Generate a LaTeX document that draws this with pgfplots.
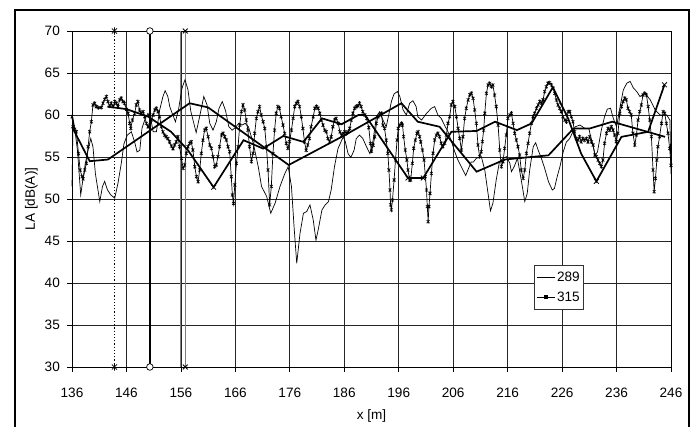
\documentclass[border=0pt]{standalone}
\usepackage{fontspec}
\setmainfont{Liberation Sans}
\usepackage{pgfplots}
\pgfplotsset{compat=1.18}
\pgfdeclareplotmark{xbar}{%
  \pgfpathmoveto{\pgfqpoint{-.7071\pgfplotmarksize}{-.7071\pgfplotmarksize}}%
  \pgfpathlineto{\pgfqpoint{.7071\pgfplotmarksize}{.7071\pgfplotmarksize}}%
  \pgfpathmoveto{\pgfqpoint{-.7071\pgfplotmarksize}{.7071\pgfplotmarksize}}%
  \pgfpathlineto{\pgfqpoint{.7071\pgfplotmarksize}{-.7071\pgfplotmarksize}}%
  \pgfpathmoveto{\pgfqpoint{0pt}{-\pgfplotmarksize}}%
  \pgfpathlineto{\pgfqpoint{0pt}{\pgfplotmarksize}}%
  \pgfusepathqstroke}
\pgfplotstableread{
x y
136.0 51.5
136.2 59.6
136.5 58.4
137.0 55.8
137.6 50.5
138.0 52.3
138.45 54.25
138.95 55.8
139.45 57.2
139.85 56.2
140.3 53.0
141.1 49.7
141.6 51.5
142.0 52.1
142.5 51.1
143.1 50.5
143.85 50.1
144.45 51.9
145.05 54.25
145.55 56.6
146.15 57.6
146.9 58.0
147.5 56.8
147.95 55.6
148.45 55.8
148.85 58.4
149.45 59.6
149.95 60.2
150.45 59.6
150.9 58.0
151.5 58.0
152.1 60.6
152.7 62.2
153.1 62.9
153.6 62.2
153.95 61.0
154.4 60.2
155.0 59.2
155.6 60.8
156.2 63.2
156.75 64.2
157.3 63.0
157.8 60.5
158.8 57.9
159.5 60.0
160.2 62.2
160.8 61.2
161.3 59.0
161.9 58.2
162.5 59.2
163.0 60.8
163.6 61.6
164.2 60.5
164.8 58.6
165.4 58.2
166.0 58.5
166.6 59.0
167.2 58.8
167.8 59.0
168.4 58.6
169.3 56.6
170.2 53.85
170.8 51.5
171.75 50.3
172.5 48.3
173.3 49.5
174.2 51.5
175.1 53.05
175.7 53.85
176.3 51.5
176.8 46.5
177.27 42.35
177.87 45.9
178.5 48.3
179.1 48.5
179.7 49.3
180.3 47.5
180.8 45.1
181.2 46.3
181.9 48.7
182.5 49.3
183.1 49.7
183.6 51.1
184.2 53.85
184.85 56.0
185.8 57.4
186.2 56.8
186.7 55.4
187.2 54.95
187.8 55.8
188.2 57.2
188.8 57.6
189.4 57.2
190.1 56.2
190.7 55.4
191.3 57.0
191.9 59.8
192.5 60.4
193.1 59.4
193.7 58.6
194.16 60.0
194.65 61.6
195.13 62.5
195.75 62.8
196.2 62.2
196.8 60.6
197.4 60.0
198.0 61.4
198.6 61.7
199.2 61.0
199.5 59.8
200.2 59.4
201.1 60.2
202.0 60.8
202.6 61.0
203.2 60.0
203.8 59.6
204.4 58.8
205.05 58.0
205.7 56.8
206.3 55.6
206.9 54.6
207.8 53.45
208.3 52.8
208.7 53.45
209.3 54.4
209.7 54.4
210.25 54.84
211.17 55.04
211.8 53.45
212.4 50.67
212.85 48.6
213.3 49.5
213.9 52.26
214.5 54.45
215.15 54.84
215.8 55.04
216.4 54.25
216.7 53.25
217.2 53.85
217.8 54.84
218.5 52.26
219.15 49.7
219.6 50.67
220.05 53.45
220.7 56.23
221.15 56.7
221.6 55.83
222.2 54.84
222.8 53.65
223.5 52.06
224.2 51.07
224.6 51.27
225.1 52.66
225.6 53.85
226.2 55.6
226.8 56.8
227.4 57.2
228.4 58.6
229.3 58.8
230.2 58.4
230.9 58.4
231.5 56.8
232.1 55.2
232.5 55.6
233.2 58.2
233.8 59.8
234.3 60.7
234.9 60.8
235.4 59.6
236.0 58.6
236.6 60.8
237.25 63.0
237.9 63.8
238.5 64.0
239.1 63.2
239.7 62.8
240.3 62.2
241.2 62.6
242.2 61.8
243.1 60.6
244.0 60.0
245.2 60.0
245.8 59.4
246.0 53.0
}\tabA
\pgfplotstableread{
x y
136.0 59.8
136.2 58.6
136.5 58.3
136.8 58.0
137.2 55.4
137.5 53.45
137.85 52.66
138.05 52.4
138.35 53.45
138.65 54.25
138.95 56.23
139.25 58.0
139.55 59.2
139.85 61.2
140.15 61.4
140.45 61.0
140.9 60.87
141.4 60.9
141.7 61.4
142.0 61.86
142.3 62.2
142.6 61.6
142.9 61.07
143.2 61.4
143.55 61.0
143.85 61.6
144.15 61.4
144.45 61.0
144.75 61.8
145.05 62.0
145.35 61.6
145.65 61.4
146.0 60.67
146.3 60.2
146.6 59.0
146.8 58.4
147.1 59.4
147.5 60.2
147.8 61.2
148.1 61.6
148.4 60.6
148.75 60.2
149.05 60.4
149.35 59.8
149.65 59.0
149.95 58.6
150.25 58.8
150.55 59.4
150.9 60.0
151.2 60.6
151.5 60.8
151.8 60.4
152.1 59.8
152.4 58.6
152.7 58.0
153.0 57.6
153.3 57.4
153.6 57.2
153.9 56.8
154.25 56.3
154.55 56.0
154.85 56.43
155.15 56.8
155.45 57.42
155.75 56.23
156.1 54.84
156.4 53.65
156.7 54.05
157.0 55.44
157.3 56.23
157.6 56.63
157.9 56.8
158.2 55.83
158.55 53.85
158.85 52.66
159.15 52.06
159.45 53.45
159.75 55.44
160.05 57.0
160.35 58.2
160.65 58.4
161.0 57.42
161.3 56.43
161.6 56.03
161.9 55.04
162.2 53.85
162.5 54.05
162.8 55.04
163.1 56.23
163.45 57.62
163.75 57.82
164.05 57.42
164.35 57.02
164.65 56.23
164.95 55.63
165.25 52.66
165.45 50.48
165.65 49.48
165.9 51.67
166.2 54.25
166.5 56.23
166.8 58.8
167.1 60.4
167.4 61.2
167.7 60.6
168.0 59.4
168.3 58.2
168.6 56.23
168.95 54.45
169.25 55.44
169.55 57.82
169.85 59.6
170.15 60.4
170.45 61.0
170.75 60.0
171.1 59.2
171.4 58.4
171.7 56.23
172.0 53.45
172.3 49.3
172.6 51.5
172.9 55.4
173.2 58.2
173.5 60.2
173.8 61.0
174.1 60.8
174.4 59.8
174.75 58.8
175.05 57.82
175.35 56.63
175.65 56.03
175.95 56.83
176.3 58.2
176.6 59.6
176.9 61.0
177.2 61.4
177.5 61.6
177.8 61.0
178.1 59.8
178.4 58.4
178.7 56.8
179.0 55.8
179.3 56.43
179.6 57.2
179.9 58.6
180.3 59.8
180.6 60.8
180.9 61.0
181.2 60.8
181.5 60.2
181.8 59.4
182.1 58.8
182.4 58.2
182.7 58.0
183.0 57.2
183.3 56.8
183.6 57.4
183.9 58.6
184.2 59.4
184.5 59.6
184.9 59.0
185.2 58.0
185.5 57.6
185.8 57.8
186.1 58.0
186.4 57.8
186.7 58.0
187.0 58.4
187.3 59.4
187.6 60.2
187.9 60.8
188.2 61.0
188.5 61.1
188.8 61.4
189.1 61.0
189.4 60.4
189.8 60.0
190.1 59.6
190.5 58.5
190.8 56.6
191.0 55.7
191.3 56.4
191.6 57.4
191.9 59.0
192.2 59.8
192.5 60.0
192.8 60.2
193.1 58.8
193.4 58.4
193.7 57.0
194.0 55.44
194.2 53.45
194.4 51.07
194.5 49.3
194.65 48.7
194.85 49.88
195.15 52.26
195.4 54.64
195.7 57.02
195.9 58.4
196.2 58.8
196.5 59.0
196.7 58.8
196.9 57.42
197.2 55.83
197.5 54.64
197.7 53.45
198.0 52.26
198.2 52.26
198.5 54.25
198.75 56.03
199.05 57.02
199.35 57.82
199.55 58.0
199.85 57.42
200.05 56.8
200.35 55.83
200.65 54.64
200.9 52.66
201.1 51.07
201.25 49.1
201.4 47.3
201.55 49.1
201.75 50.67
202.0 53.05
202.3 55.44
202.6 57.02
202.9 57.62
203.2 57.82
203.5 57.42
203.8 56.63
204.1 56.23
204.45 56.63
204.75 57.62
205.05 59.0
205.35 59.8
205.65 61.2
205.95 61.6
206.3 61.0
206.6 59.8
206.9 58.4
207.2 57.22
207.5 55.83
207.8 57.42
208.1 59.6
208.4 60.8
208.75 61.8
209.05 62.4
209.35 62.6
209.65 61.98
209.95 60.6
210.25 59.0
210.55 56.43
210.85 55.04
211.15 55.63
211.35 56.83
211.6 58.2
211.8 60.2
212.1 62.58
212.4 63.57
212.7 63.77
213.0 63.37
213.3 63.57
213.6 62.38
213.9 61.0
214.25 58.8
214.55 55.83
214.85 53.85
215.15 54.45
215.45 56.03
215.75 57.62
216.05 59.6
216.4 60.0
216.7 60.2
217.0 59.0
217.3 57.82
217.6 57.02
217.9 56.23
218.2 55.24
218.5 53.45
218.85 52.46
219.15 53.45
219.45 55.44
219.75 56.63
220.05 57.82
220.35 59.0
220.65 59.8
220.95 60.2
221.3 60.8
221.6 61.2
221.9 61.6
222.2 61.4
222.5 61.8
222.8 62.78
223.1 63.37
223.4 63.77
223.7 63.85
224.05 63.57
224.35 63.18
224.65 62.58
224.95 61.78
225.25 61.2
225.55 60.8
225.85 60.4
226.15 59.8
226.5 59.4
226.8 59.2
227.1 60.4
227.4 60.4
227.7 59.8
228.0 59.2
228.3 58.0
228.6 57.2
228.9 57.0
229.2 57.4
229.5 56.8
229.8 57.2
230.1 57.0
230.45 57.2
230.75 56.8
231.05 57.4
231.4 56.8
231.7 56.43
232.0 55.24
232.3 55.04
232.6 54.64
232.9 54.25
233.2 53.85
233.5 54.64
233.8 56.63
234.15 57.82
234.45 58.4
234.75 58.2
235.05 58.6
235.35 58.2
235.65 57.62
235.95 56.83
236.25 57.82
236.6 60.2
236.9 61.0
237.2 61.6
237.5 62.0
237.8 61.8
238.1 60.8
238.4 60.4
238.7 60.0
239.0 57.82
239.35 56.43
239.65 57.62
239.95 59.4
240.25 60.4
240.55 61.2
240.85 62.38
241.15 62.58
241.5 62.38
241.8 61.0
242.1 59.4
242.4 57.42
242.7 53.45
242.9 50.87
243.15 52.46
243.4 54.64
243.6 56.23
243.9 57.42
244.25 59.0
244.55 60.4
244.85 60.2
245.15 59.0
245.45 57.82
245.75 56.03
246.0 54.0
}\tabB
\begin{document}
\fontsize{13.4bp}{16bp}\selectfont
\begin{tikzpicture}
\begin{axis}[
  at={(72bp,60bp)}, anchor=south west,
  scale only axis, width=599bp, height=336bp,
  xmin=136, xmax=246, ymin=30, ymax=70,
  xtick={136,146,...,246}, ytick={30,35,...,70},
  tick align=outside, tick pos=left, major tick length=5bp,
  grid=major, major grid style={black!85, line width=0.75bp},
  axis line style={black, line width=0.9bp},
  tick style={black, line width=0.7bp},
  /pgf/number format/assume math mode=true,
  tick label style={font=\fontsize{13.6bp}{16bp}\selectfont},
  xticklabel style={yshift=-11.5bp},
  yticklabel style={xshift=-2.5bp},
  label style={font=\fontsize{13.6bp}{16bp}\selectfont},
  xlabel={x [m]}, ylabel={LA [dB(A)]},
  xlabel style={at={(axis description cs:0.5,-0.1577)}, anchor=base},
  ylabel style={at={(axis description cs:-0.0618,0.5)}, anchor=base, rotate=0},
  clip=false,
  legend image code/.code={\draw[mark repeat=2,mark phase=2,#1] plot coordinates {(0bp,0bp) (9bp,0bp) (18bp,0bp)};},
  legend style={at={(0.7713,0.3036)}, anchor=north west, draw=black!80, line width=0.7bp,
    inner xsep=2bp, inner ysep=5bp, row sep=6.4bp,
    font=\fontsize{13.6bp}{16bp}\selectfont,
    nodes={inner sep=2bp, text height=9.6bp, text depth=0bp}},
  legend cell align=left,
]
% vertical reference lines
\addplot[forget plot, black, line width=0.8bp, dash pattern=on 1.2bp off 2bp, mark=xbar, mark size=3.6bp, mark options={solid, line width=0.7bp}] coordinates {(143.8,30) (143.8,70)};
\addplot[forget plot, black, line width=1.7bp, mark=*, mark size=3.3bp, mark options={fill=white, draw=black, line width=0.7bp}] coordinates {(150.3,30) (150.3,70)};
\addplot[forget plot, black!50, line width=1bp] coordinates {(156.0,30) (156.0,70)};
\addplot[forget plot, black!50, line width=1bp, mark=x, mark size=3.5bp, mark options={black, line width=0.75bp}] coordinates {(156.8,30) (156.8,70)};
% series
\addplot[black, line width=0.7bp] table {\tabA};
\addlegendentry{289}
\addplot[forget plot, black, line width=0.7bp, mark=xbar, mark size=2.1bp, mark options={line width=0.6bp}] table {\tabB};
\addlegendimage{black, line width=0.7bp, mark=square*, mark size=1.3bp}
\addlegendentry{315}
% thick lines
\addplot[forget plot, black, line width=1.7bp] coordinates {
(136.0,58.6) (139.25,54.5) (142.6,54.7) (157.6,61.4) (161.0,60.9) (175.8,54.05) (186.1,57.6) (196.5,61.4) (199.5,59.2) (203.5,58.6) (210.3,53.25) (215.5,54.7) (223.5,55.2) (228.1,58.4) (231.1,58.4) (235.2,59.2) (244.9,57.4)};
\addplot[forget plot, black, line width=1.7bp] coordinates {
(142.5,61.0) (146.0,60.7) (150.0,59.8) (154.2,58.0) (157.3,55.8) (162.0,51.4) (167.5,57.0) (171.1,56.0) (174.8,57.5) (178.5,56.8) (181.9,59.6) (185.5,58.9) (188.6,60.0) (189.8,60.0) (197.7,52.5) (200.5,52.5) (205.66,58.0) (210.3,58.1) (213.7,59.2) (217.7,58.2) (220.4,59.0) (224.3,63.3) (227.1,59.6) (229.5,55.4) (232.3,52.1) (236.9,57.4) (241.8,58.0) (244.8,63.6)};
\addplot[forget plot, only marks, black, mark=x, mark size=3.4bp, mark options={line width=0.75bp}] coordinates {
(162.0,51.4) (197.7,52.5) (200.5,52.5) (232.3,52.1) (244.8,63.6)};
\end{axis}
\draw[black, line width=2bp] (14.5bp,-10bp) rectangle (689.3bp,416.5bp);
\pgfresetboundingbox
\path[use as bounding box] (0,0) rectangle (697bp,427bp);
\end{tikzpicture}
\end{document}
